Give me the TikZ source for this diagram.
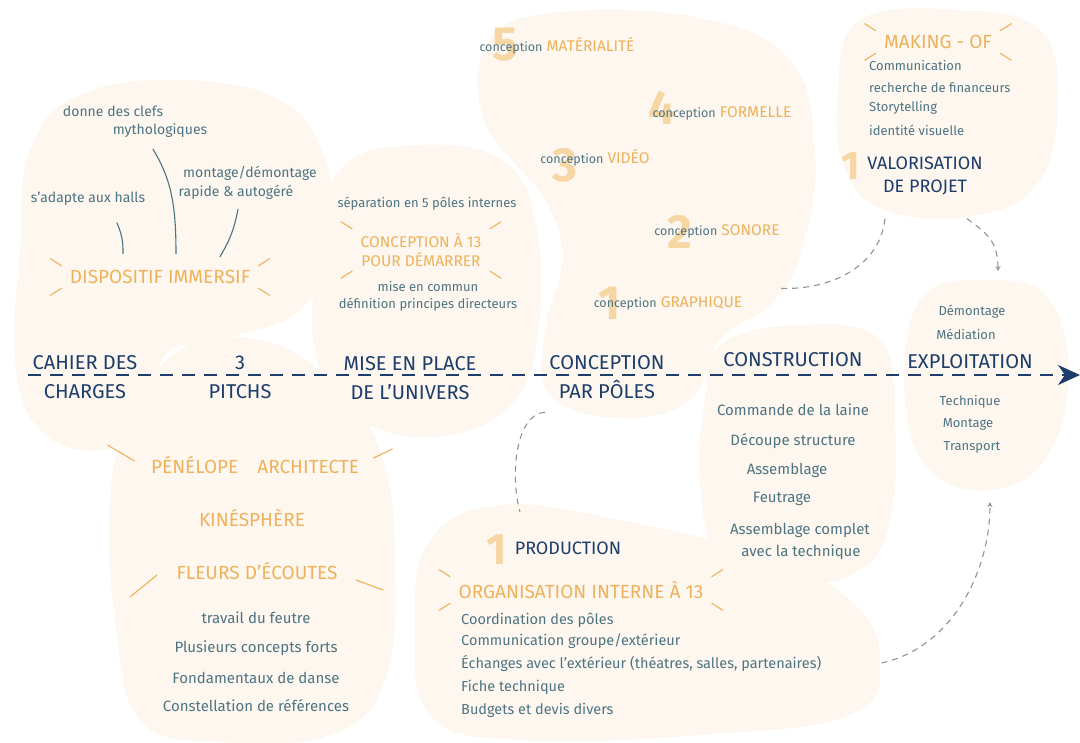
\documentclass[tikz,border=0pt]{standalone}
\usepackage{fontspec}
\setmainfont{Fira Sans}
\usetikzlibrary{arrows.meta}

\definecolor{cream}{HTML}{FDF7EF}
\definecolor{ochre}{HTML}{EDB25B}
\definecolor{paleochre}{HTML}{F6D6A2}
\definecolor{slate}{HTML}{4E7482}
\definecolor{navy}{HTML}{1D3D6B}
\definecolor{linkgray}{HTML}{8D9297}

% little strokes round an orange heading
\newcommand{\sunrays}[1]{%
  \draw[ray] ([shift={(-16pt,8pt)}]#1.north west) -- ([shift={(-5pt,1pt)}]#1.north west);
  \draw[ray] ([shift={(-16pt,-8pt)}]#1.south west) -- ([shift={(-5pt,-1pt)}]#1.south west);
  \draw[ray] ([shift={(16pt,8pt)}]#1.north east) -- ([shift={(5pt,1pt)}]#1.north east);
  \draw[ray] ([shift={(16pt,-8pt)}]#1.south east) -- ([shift={(5pt,-1pt)}]#1.south east);}
\newcommand{\polelabel}[1]{{\color{slate}\fontsize{12.5}{14}\selectfont conception}~#1}

\begin{document}
\begin{tikzpicture}[x=1pt,y=-1pt,
    blob/.style={fill=cream,draw=none},
    note/.style={text=slate,font=\fontsize{14}{16}\selectfont,inner sep=2pt},
    bignote/.style={note,font=\fontsize{15}{17}\selectfont},
    smallnote/.style={note,font=\fontsize{13}{15}\selectfont},
    head/.style={text=ochre,font=\fontsize{19}{22}\selectfont,align=center},
    polehead/.style={head,font=\fontsize{15.5}{19}\selectfont},
    phase/.style={text=navy,font=\fontsize{20}{24}\selectfont,align=center},
    subphase/.style={phase,font=\fontsize{18}{21}\selectfont},
    bignum/.style={text=paleochre,font=\fontsize{48}{48}\selectfont\bfseries},
    ray/.style={ochre,line width=1.1pt,line cap=round},
    stem/.style={slate,line width=1.1pt,line cap=round},
    link/.style={linkgray,line width=1.1pt,dash pattern=on 6pt off 5pt}]
\useasboundingbox (0,0) rectangle (1080,743);

% background blobs
\fill[blob] plot[smooth cycle,tension=0.7] coordinates {(30,150) (80,95) (180,80) (280,100) (325,160) (330,240) (300,310) (220,340) (165,355) (150,420) (100,450) (40,430) (15,360) (20,250)};
\fill[blob] plot[smooth cycle,tension=0.7] coordinates {(180,350) (260,340) (330,380) (380,450) (395,560) (385,680) (330,735) (220,742) (140,720) (115,620) (110,500) (130,420)};
\fill[blob] plot[smooth cycle,tension=0.7] coordinates {(340,170) (420,145) (505,162) (537,230) (538,330) (515,400) (450,435) (370,425) (320,370) (315,270)};
\fill[blob] plot[smooth cycle,tension=0.7] coordinates {(490,40) (560,12) (700,18) (790,60) (815,150) (805,240) (775,300) (720,340) (690,400) (620,418) (550,395) (545,330) (562,260) (545,200) (484,120)};
\fill[blob] plot[smooth cycle,tension=0.7] coordinates {(860,20) (960,10) (1040,30) (1058,100) (1040,180) (980,215) (890,212) (845,170) (838,90)};
\fill[blob] plot[smooth cycle,tension=0.7] coordinates {(720,345) (800,325) (880,340) (895,420) (890,520) (860,570) (790,585) (720,560) (700,480) (705,400)};
\fill[blob] plot[smooth cycle,tension=0.7] coordinates {(920,300) (990,280) (1050,300) (1068,380) (1045,460) (990,490) (930,470) (905,400)};
\fill[blob] plot[smooth cycle,tension=0.7] coordinates {(430,540) (500,505) (620,520) (760,555) (850,600) (880,660) (850,715) (700,735) (520,740) (430,715) (415,620)};

% dispositif immersif
\node[note] (clefs) at (113,111) {donne des clefs};
\node[note] (mytho) at (160,131) {mythologiques};
\node[note] (halls) at (88,199) {s'adapte aux halls};
\node[note] (montage) at (250,173) {montage/démontage};
\node[note] (rapide) at (236,192) {rapide \& autogéré};
\node[head] (dispo) at (160,277) {DISPOSITIF IMMERSIF};
\sunrays{dispo}
\draw[stem] ([shift={(29pt,-15pt)}]halls.south) to[bend left=12] ([shift={(-37pt,13pt)}]dispo.north);
\draw[stem] ([shift={(-7pt,-9pt)}]mytho.south) .. controls +(18,30) and +(0,-50) .. ([shift={(16pt,13pt)}]dispo.north);
\draw[stem] ([shift={(2pt,-8pt)}]rapide.south) to[bend left=10] ([shift={(60pt,10pt)}]dispo.north);

% mise en place
\node[smallnote] (separation) at (427,204) {séparation en 5 pôles internes};
\node[polehead] (conc13) at (421,250) {CONCEPTION À 13\\POUR DÉMARRER};
\sunrays{conc13}
\node[smallnote] (commun) at (428,287) {mise en commun};
\node[smallnote] (principes) at (428,305) {définition principes directeurs};

% conception par poles
\node[bignum] (num5) at (505,45) {5};
\node[bignum] (num4) at (662,108) {4};
\node[bignum] (num3) at (565,165) {3};
\node[bignum] (num2) at (680,232) {2};
\node[bignum] (num1) at (610,303) {1};
\node[polehead] (concmat) at (557,46) {\polelabel{MATÉRIALITÉ}};
\node[polehead] (concform) at (722,113) {\polelabel{FORMELLE}};
\node[polehead] (concvid) at (595,158) {\polelabel{VIDÉO}};
\node[polehead] (concson) at (717,231) {\polelabel{SONORE}};
\node[polehead] (concgraph) at (668,303) {\polelabel{GRAPHIQUE}};

% making-of
\node[head] (making) at (938,42) {MAKING - OF};
\sunrays{making}
\foreach \t/\y [count=\i] in {Communication/66, recherche de financeurs/88, Storytelling/108, identité visuelle/130}
  \node[smallnote,anchor=west] (mk\i) at (867,\y) {\t};
\node[bignum,font=\fontsize{40}{40}\selectfont\bfseries] (numval) at (851,166) {1};
\node[subphase] (valor) at (925,176) {VALORISATION\\[2pt]DE PROJET};

% timeline
\coordinate (tlstart) at (28,375);
\coordinate (tlend) at (1080,375);
\draw[navy,line width=2.6pt,dash pattern=on 13pt off 9pt,-{Stealth[length=22pt,width=20pt,inset=7pt]}] (tlstart) -- (tlend);
\node[phase] (cahier) at (85,377) {CAHIER DES\\[5pt]CHARGES};
\node[phase] (pitchs) at (240,377) {3\\[5pt]PITCHS};
\node[phase] (mise) at (410,378) {MISE EN PLACE\\[5pt]DE L'UNIVERS};
\node[phase] (parpoles) at (607,377) {CONCEPTION\\[5pt]PAR PÔLES};
\node[phase] (constr) at (793,360) {CONSTRUCTION};
\node[phase] (exploit) at (970,362) {EXPLOITATION};

% construction
\foreach \t/\x/\y [count=\i] in {Commande de la laine/793/410, Découpe structure/793/441, Assemblage/787/470, Feutrage/782/499, Assemblage complet/800/530, avec la technique/801/552}
  \node[bignote] (build\i) at (\x,\y) {\t};

% exploitation
\node[smallnote] (demont) at (972,312) {Démontage};
\node[smallnote] (mediation) at (966,334) {Médiation};
\node[smallnote] (technique) at (970,402) {Technique};
\node[smallnote] (montage2) at (968,424) {Montage};
\node[smallnote] (transport) at (972,447) {Transport};

% pitchs
\node[head] (penelope) at (255,465) {PÉNÉLOPE\quad ARCHITECTE};
\draw[ray] ([shift={(-40pt,20pt)}]penelope.west) -- ([shift={(-13pt,4pt)}]penelope.west);
\draw[ray] ([shift={(30pt,16pt)}]penelope.east) -- ([shift={(11pt,7pt)}]penelope.east);
\node[head] (kine) at (252,518) {KINÉSPHÈRE};
\node[head] (fleurs) at (257,571) {FLEURS D'ÉCOUTES};
\draw[ray] ([shift={(-43pt,-26pt)}]fleurs.west) -- ([shift={(-16pt,-4pt)}]fleurs.west);
\draw[ray] ([shift={(42pt,-19pt)}]fleurs.east) -- ([shift={(15pt,-9pt)}]fleurs.east);
\foreach \t/\y [count=\i] in {travail du feutre/618, Plusieurs concepts forts/648, Fondamentaux de danse/678, Constellation de références/706}
  \node[note,font=\fontsize{15}{17}\selectfont] (pitch\i) at (256,\y) {\t};

% production
\node[bignum,font=\fontsize{44}{44}\selectfont\bfseries] (numprod) at (497,550) {1};
\node[subphase] (prod) at (568,548) {PRODUCTION};
\node[head] (orga) at (581,590) {ORGANISATION INTERNE À 13};
\sunrays{orga}
\foreach \t/\y [count=\i] in {Coordination des pôles/620, {Communication groupe/extérieur}/641, {Échanges avec l'extérieur (théatres, salles, partenaires)}/663, Fiche technique/687, Budgets et devis divers/710}
  \node[note,font=\fontsize{14.5}{16}\selectfont,anchor=west] (prodi\i) at (459,\y) {\t};

% dashed links
\draw[link] ([shift={(-40pt,-20pt)}]valor.south) .. controls +(-5,50) and +(50,4) .. ([shift={(30pt,15pt)}]concgraph.east);
\draw[link,-{Stealth[length=5pt,width=5pt]}] ([shift={(42pt,-20pt)}]valor.south) .. controls +(20,15) and +(0,-30) .. ([shift={(26pt,32pt)}]demont.north);
\draw[link] ([shift={(-62pt,-10pt)}]parpoles.south) .. controls +(-30,2) and +(-10,-35) .. ([shift={(-48pt,26pt)}]prod.north);
\draw[link,-{Stealth[length=5pt,width=5pt]}] ([shift={(58pt,0pt)}]prodi3.east) .. controls +(70,-15) and +(0,70) .. ([shift={(18pt,-47pt)}]transport.south);
\end{tikzpicture}
\end{document}
